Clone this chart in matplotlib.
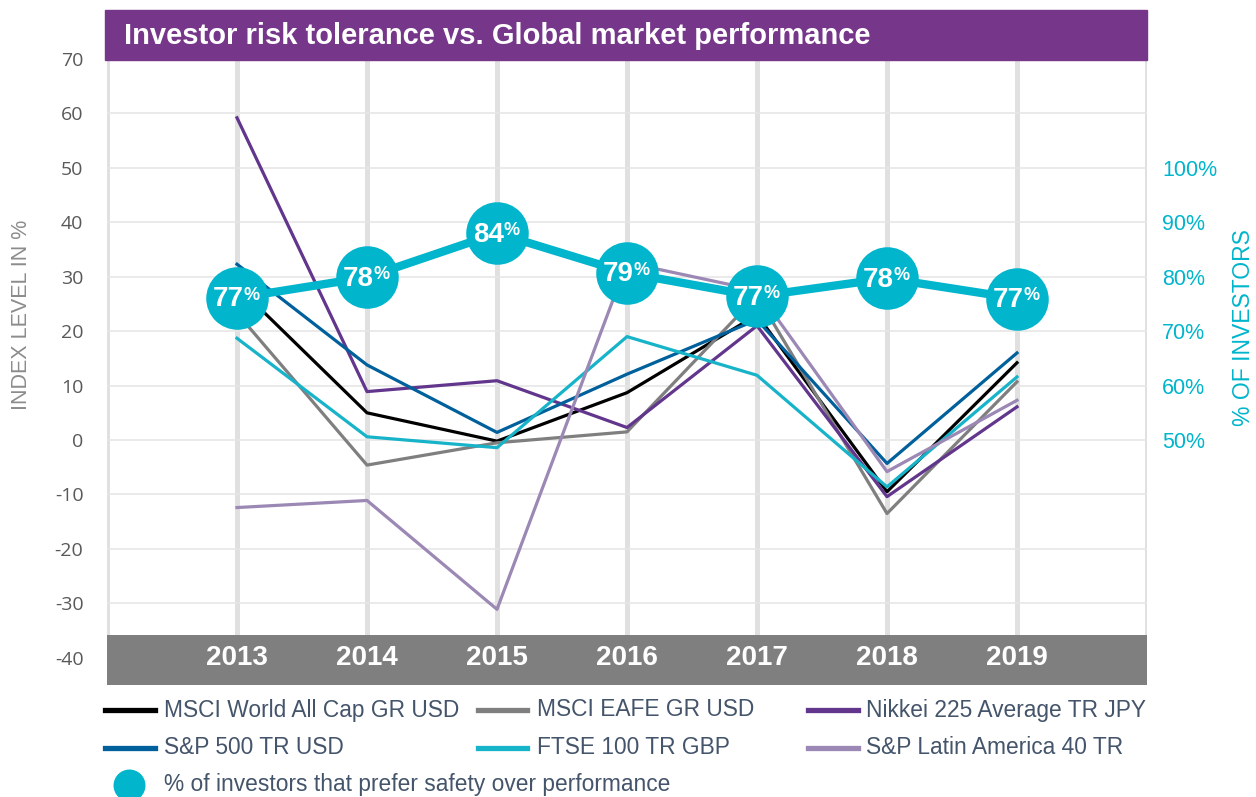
import matplotlib.pyplot as plt
from matplotlib.patches import Rectangle
from matplotlib.lines import Line2D

plt.rcParams['font.family'] = ['Liberation Sans', 'DejaVu Sans']
plt.rcParams['axes.unicode_minus'] = False

years = [2013, 2014, 2015, 2016, 2017, 2018, 2019]

# index levels in %
msci_world = [28.3, 5.0, -0.2, 8.7, 23.0, -9.5, 14.2]
msci_eafe = [23.3, -4.6, -0.5, 1.5, 26.5, -13.5, 10.7]
nikkei = [59.2, 8.9, 10.9, 2.3, 21.0, -10.4, 6.1]
sp500 = [32.3, 13.8, 1.4, 12.1, 22.1, -4.3, 16.0]
ftse = [18.7, 0.6, -1.4, 19.0, 11.9, -8.6, 11.6]
latam = [-12.4, -11.1, -31.1, 32.6, 27.5, -5.8, 7.3]

# % of investors preferring safety (position on right axis, and printed label)
safety = [76.1, 79.9, 88.0, 80.7, 76.4, 79.7, 76.0]
safety_labels = ['77', '78', '84', '79', '77', '78', '77']

series = [
    ('MSCI World All Cap GR USD', msci_world, '#000000'),
    ('MSCI EAFE GR USD', msci_eafe, '#7F7F7F'),
    ('Nikkei 225 Average TR JPY', nikkei, '#62368C'),
    ('S&P 500 TR USD', sp500, '#00609C'),
    ('FTSE 100 TR GBP', ftse, '#17B3C9'),
    ('S&P Latin America 40 TR', latam, '#9B88B5'),
]
teal = '#00B5CC'
purple = '#76368A'
W, H = 1256, 797


def fx(px):
    return px / W


def fy(py):
    return 1 - py / H


fig = plt.figure(figsize=(12.56, 7.97), dpi=100)
ax = fig.add_axes([fx(107), fy(685), fx(1147) - fx(107), fy(59) - fy(685)])
ax.set_xlim(2012, 2020)
ax.set_ylim(-45, 70)
for s in ax.spines.values():
    s.set_visible(False)

# grid: thick vertical bars, thin horizontal lines
for x in range(2012, 2021):
    ax.axvline(x, color='#E0E0E0', lw=3.6, zorder=0)
ax.set_yticks(range(-40, 71, 10))
ax.set_xticks([])
ax.grid(axis='y', color='#E6E6E6', lw=1.2, zorder=0)
ax.tick_params(axis='y', length=0, pad=17, labelcolor='#595959', labelsize=14)
for lab in ax.get_yticklabels():
    lab.set_family('Open Sans')

for name, vals, c in series:
    ax.plot(years, vals, color=c, lw=2.3, zorder=3)

# grey category band at the bottom
ax.axhspan(-45, -35.8, color='#7F7F7F', zorder=4, lw=0)
for y in years:
    ax.text(y, -40, str(y), color='white', fontsize=20, fontweight='bold',
            ha='center', va='center', zorder=5)

# right axis with the safety bubbles
ax2 = ax.twinx()
ax2.set_ylim(5, 120)
ax2.set_yticks(range(50, 101, 10))
ax2.set_yticklabels([f'{v}%' for v in range(50, 101, 10)])
ax2.tick_params(axis='y', length=0, pad=11, labelcolor=teal, labelsize=15.5)
for s in ax2.spines.values():
    s.set_visible(False)
ax2.plot(years, safety, color=teal, lw=6, marker='o', markersize=44,
         markerfacecolor=teal, markeredgecolor=teal, zorder=6)
for y, v, lab in zip(years, safety, safety_labels):
    ax2.annotate(lab, (y, v), xytext=(5, -1), textcoords='offset points',
                 ha='right', va='center', color='white', fontsize=20,
                 fontweight='bold', zorder=7)
    ax2.annotate('%', (y, v), xytext=(4.5, 8), textcoords='offset points',
                 ha='left', va='top', color='white', fontsize=13,
                 fontweight='bold', zorder=7)

# axis titles
fig.text(fx(22), fy(315), 'INDEX LEVEL IN %', rotation=90, ha='center',
         va='center', color='#8C8C8C', fontsize=15.5)
fig.text(fx(1243), fy(328), '% OF INVESTORS', rotation=90, ha='center',
         va='center', color=teal, fontsize=16.5)

# title bar
fig.patches.append(Rectangle((fx(105), fy(60)), fx(1147) - fx(105), fy(10) - fy(60),
                             transform=fig.transFigure, color=purple, zorder=0))
fig.text(fx(124), fy(36), 'Investor risk tolerance vs. Global market performance',
         color='white', fontsize=21, fontweight='bold', ha='left', va='center')

# legend, laid out like the original (3 columns, row by row)
cols = [(105, 155, 164), (478, 527, 537), (808, 858, 866)]
rows = [710, 748]
for i, (name, vals, c) in enumerate(series):
    x0, x1, xt = cols[i % 3]
    yy = rows[i // 3]
    fig.add_artist(Line2D([fx(x0), fx(x1)], [fy(yy), fy(yy)], color=c, lw=3.8,
                          transform=fig.transFigure))
    fig.text(fx(xt), fy(yy), name, color='#44546A', fontsize=16.4,
             ha='left', va='center')
fig.add_artist(Line2D([fx(129)], [fy(785)], marker='o', markersize=22, color=teal,
                      linestyle='none', transform=fig.transFigure))
fig.text(fx(164), fy(785), '% of investors that prefer safety over performance',
         color='#44546A', fontsize=16.4, ha='left', va='center')

plt.savefig('out.png', dpi=100)
